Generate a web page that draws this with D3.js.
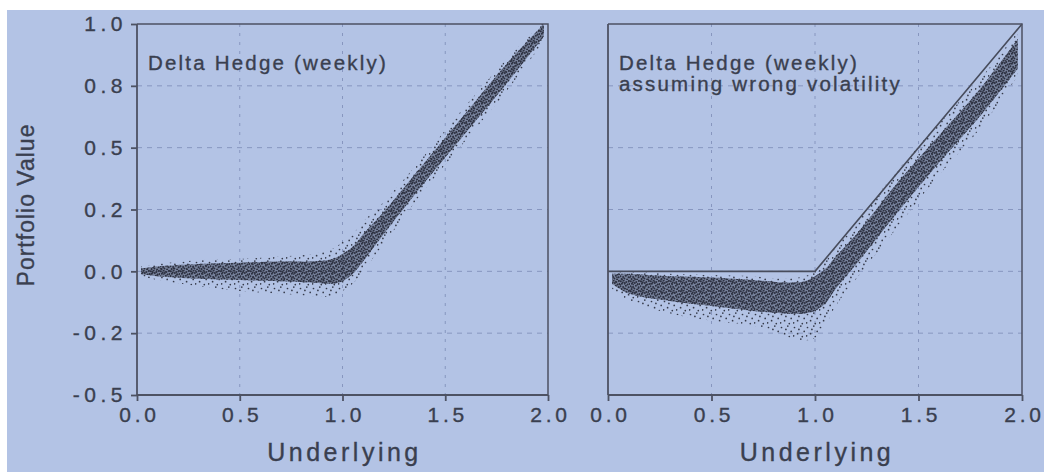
<!DOCTYPE html>
<html>
<head>
<meta charset="utf-8">
<script src="https://d3js.org/d3.v7.min.js"></script>
<style>
  body { margin: 0; background: #ffffff; }
  text { font-family: "Liberation Sans", Arial, sans-serif; fill: #3a3f4f; stroke: #3a3f4f; stroke-width: 0.35px; }
</style>
</head>
<body>
<div id="chart"></div>
<script>
// tick values and their printed labels (labels are rounded in the original)
var xTicks = [0, 0.5, 1.0, 1.5, 2.0];
var xTickLabels = ["0.0", "0.5", "1.0", "1.5", "2.0"];
var yTicks = [1.0, 0.75, 0.5, 0.25, 0.0, -0.25, -0.5];
var yTickLabels = ["1.0", "0.8", "0.5", "0.2", "0.0", "-0.2", "-0.5"];

var cloudX = [0.02, 0.1, 0.3, 0.5, 0.7, 0.85, 0.95, 1.0, 1.05, 1.1, 1.2, 1.4, 1.6, 1.8, 1.98];

// left panel: dense core and sparse halo of the cloud (low / high)
var leftCoreLo = [-0.012, -0.02, -0.03, -0.035, -0.04, -0.045, -0.05, -0.04, -0.01, 0.04, 0.15, 0.36, 0.56, 0.76, 0.95];
var leftCoreHi = [0.012, 0.02, 0.03, 0.035, 0.04, 0.04, 0.05, 0.07, 0.1, 0.15, 0.24, 0.44, 0.64, 0.84, 1.0];
var leftHaloLo = [-0.02, -0.035, -0.06, -0.08, -0.09, -0.1, -0.1, -0.08, -0.05, 0.0, 0.11, 0.33, 0.53, 0.73, 0.93];
var leftHaloHi = [0.02, 0.03, 0.045, 0.05, 0.06, 0.07, 0.09, 0.12, 0.15, 0.2, 0.28, 0.47, 0.67, 0.86, 1.01];

// right panel (wrong volatility)
var rightCoreLo = [-0.05, -0.09, -0.12, -0.14, -0.16, -0.17, -0.17, -0.16, -0.13, -0.07, 0.03, 0.24, 0.44, 0.63, 0.82];
var rightCoreHi = [-0.01, -0.01, -0.02, -0.025, -0.035, -0.045, -0.04, -0.02, 0.01, 0.06, 0.15, 0.36, 0.55, 0.74, 0.94];
var rightHaloLo = [-0.07, -0.12, -0.17, -0.2, -0.22, -0.26, -0.28, -0.27, -0.22, -0.14, -0.03, 0.18, 0.39, 0.58, 0.79];
var rightHaloHi = [-0.005, 0.0, -0.01, -0.015, -0.02, -0.03, -0.02, 0.0, 0.04, 0.1, 0.2, 0.41, 0.6, 0.78, 0.97];

// option payoff drawn in the right panel
var payoffX = [0, 1, 2];
var payoffY = [0, 0, 1];

var titles = [["Delta Hedge (weekly)"], ["Delta Hedge (weekly)", "assuming wrong volatility"]];

var W = 1047, H = 472;
var svg = d3.select("#chart").append("svg")
    .attr("width", W)
    .attr("height", H);

// blue backdrop with the thin white margin of the scan
svg.append("rect")
    .attr("x", 7).attr("y", 10)
    .attr("width", 1037).attr("height", 462)
    .attr("fill", "#b3c3e5");

// stipple patterns so the clouds read as scattered points
var defs = svg.append("defs");
var coreDots = [[0.8,1.2],[3.6,0.4],[6.3,2.1],[8.9,0.9],[1.9,3.8],[4.8,3.1],[7.6,4.4],[0.4,6.2],
                [3.1,6.9],[5.9,5.8],[8.6,7.2],[1.6,9.1],[4.4,8.6],[7.1,9.5],[9.6,4.0],[2.7,2.5]];
var haloDots = [[1.5,2.5],[7.8,1.1],[11.2,6.4],[4.6,8.7],[0.6,10.8],[9.3,11.6],[5.9,4.4]];

var pc = defs.append("pattern").attr("id", "core")
    .attr("patternUnits", "userSpaceOnUse").attr("width", 10).attr("height", 10);
pc.selectAll("circle").data(coreDots).enter().append("circle")
    .attr("cx", function(d) { return d[0]; })
    .attr("cy", function(d) { return d[1]; })
    .attr("r", 1.0)
    .attr("fill", "#2c3040");

var ph = defs.append("pattern").attr("id", "halo")
    .attr("patternUnits", "userSpaceOnUse").attr("width", 13).attr("height", 13);
ph.selectAll("circle").data(haloDots).enter().append("circle")
    .attr("cx", function(d) { return d[0]; })
    .attr("cy", function(d) { return d[1]; })
    .attr("r", 0.85)
    .attr("fill", "#353a4a");

// shared y scale
var y = d3.scaleLinear().domain([-0.5, 1.0]).range([395, 24]);

var panels = [
    { x0: 137, x1: 548, coreLo: leftCoreLo, coreHi: leftCoreHi, haloLo: leftHaloLo, haloHi: leftHaloHi, payoff: false, yLabels: true },
    { x0: 608, x1: 1022, coreLo: rightCoreLo, coreHi: rightCoreHi, haloLo: rightHaloLo, haloHi: rightHaloHi, payoff: true, yLabels: false }
];

panels.forEach(function(p, i) {
    var x = d3.scaleLinear().domain([0, 2]).range([p.x0, p.x1]);
    var g = svg.append("g");

    defs.append("clipPath").attr("id", "clip" + i)
        .append("rect")
        .attr("x", p.x0).attr("y", y(1.0))
        .attr("width", p.x1 - p.x0).attr("height", y(-0.5) - y(1.0));

    // dashed grid
    g.append("g").selectAll("line").data(xTicks.slice(1, 4)).enter().append("line")
        .attr("x1", function(d) { return x(d); }).attr("x2", function(d) { return x(d); })
        .attr("y1", y(1.0)).attr("y2", y(-0.5))
        .attr("stroke", "#8796bf").attr("stroke-width", 1).attr("stroke-dasharray", "3,6");
    g.append("g").selectAll("line").data(yTicks.slice(1, 6)).enter().append("line")
        .attr("x1", p.x0).attr("x2", p.x1)
        .attr("y1", function(d) { return y(d); }).attr("y2", function(d) { return y(d); })
        .attr("stroke", "#8796bf").attr("stroke-width", 1).attr("stroke-dasharray", "5,5");

    // cloud of portfolio values
    var cloud = cloudX.map(function(v, k) {
        return { x: v, cl: p.coreLo[k], ch: p.coreHi[k], hl: p.haloLo[k], hh: p.haloHi[k] };
    });
    var halo = d3.area().curve(d3.curveCatmullRom)
        .x(function(d) { return x(d.x); })
        .y0(function(d) { return y(d.hl); })
        .y1(function(d) { return y(d.hh); });
    var core = d3.area().curve(d3.curveCatmullRom)
        .x(function(d) { return x(d.x); })
        .y0(function(d) { return y(d.cl); })
        .y1(function(d) { return y(d.ch); });
    var cg = g.append("g").attr("clip-path", "url(#clip" + i + ")");
    cg.append("path").datum(cloud).attr("d", halo).attr("fill", "url(#halo)");
    cg.append("path").datum(cloud).attr("d", core).attr("fill", "#3a3f52").attr("opacity", 0.5);
    cg.append("path").datum(cloud).attr("d", core).attr("fill", "url(#core)");

    if (p.payoff) {
        var pts = payoffX.map(function(v, k) { return [v, payoffY[k]]; });
        g.append("path").datum(pts)
            .attr("d", d3.line().x(function(d) { return x(d[0]); }).y(function(d) { return y(d[1]); }))
            .attr("fill", "none").attr("stroke", "#474c5c").attr("stroke-width", 1.6);
    }

    // frame: top and right edges
    g.append("path")
        .attr("d", "M" + p.x0 + "," + y(1.0) + "H" + p.x1 + "V" + y(-0.5))
        .attr("fill", "none").attr("stroke", "#4d5263").attr("stroke-width", 1.5);

    // x axis
    var xa = g.append("g")
        .attr("transform", "translate(0," + y(-0.5) + ")")
        .call(d3.axisBottom(x).tickValues(xTicks).tickSize(6).tickPadding(6)
            .tickFormat(function(d, k) { return xTickLabels[k]; }));
    xa.selectAll("path, line").attr("stroke", "#4d5263").attr("stroke-width", 1.8);
    xa.select(".domain").attr("d", "M" + p.x0 + ",0H" + p.x1);
    xa.selectAll("text")
        .attr("font-size", "21px").attr("letter-spacing", "3.8px").attr("dx", "2px")
        .attr("fill", "#3a3f4f").style("font-family", "Liberation Sans, Arial, sans-serif");

    // y axis
    var ya = g.append("g")
        .attr("transform", "translate(" + p.x0 + ",0)")
        .call(d3.axisLeft(y).tickValues(yTicks).tickSize(p.yLabels ? 6 : 0).tickPadding(8)
            .tickFormat(function(d, k) { return p.yLabels ? yTickLabels[k] : ""; }));
    ya.selectAll("path, line").attr("stroke", "#4d5263").attr("stroke-width", 1.8);
    ya.select(".domain").attr("d", "M0," + y(1.0) + "V" + y(-0.5));
    ya.selectAll("text")
        .attr("font-size", "21px").attr("letter-spacing", "4.5px").attr("dx", "4px")
        .attr("fill", "#3a3f4f").style("font-family", "Liberation Sans, Arial, sans-serif");

    // x axis title
    svg.append("text")
        .attr("x", x(1.0) + 2).attr("y", 461)
        .attr("text-anchor", "middle")
        .attr("font-size", "25px").attr("letter-spacing", "3.5px")
        .text("Underlying");

    // panel title
    var t = svg.append("text")
        .attr("x", p.x0 + 11).attr("y", 70)
        .attr("font-size", "20.5px").attr("letter-spacing", "2.2px");
    titles[i].forEach(function(line, k) {
        t.append("tspan").attr("x", p.x0 + 11).attr("dy", k === 0 ? 0 : 21).text(line);
    });
});

// y axis title
svg.append("text")
    .attr("transform", "translate(34,205) rotate(-90)")
    .attr("text-anchor", "middle")
    .attr("font-size", "23px").attr("letter-spacing", "1px")
    .text("Portfolio Value");
</script>
</body>
</html>
